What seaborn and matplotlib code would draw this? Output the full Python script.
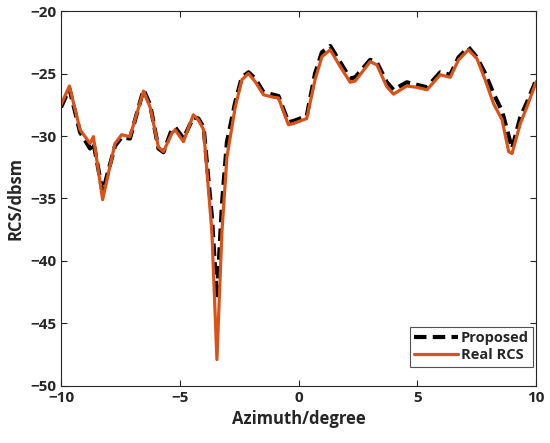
import pandas as pd
import seaborn as sns
import matplotlib.pyplot as plt

# Azimuth samples (degree)
azimuth = [-10.0, -9.65, -9.2, -8.78, -8.64, -8.25, -7.73, -7.45, -7.1, -6.81,
           -6.53, -6.25, -5.9, -5.69, -5.34, -5.2, -4.85, -4.43, -4.22, -4.0,
           -3.65, -3.44, -3.23, -3.02, -2.67, -2.39, -2.11, -1.83, -1.48, -1.06,
           -0.85, -0.43, -0.22, 0.34, 0.69, 0.98, 1.33, 1.75, 2.17, 2.38,
           3.01, 3.29, 3.71, 3.99, 4.55, 4.97, 5.4, 5.96, 6.38, 6.73,
           7.15, 7.5, 7.85, 8.2, 8.56, 8.84, 8.98, 9.33, 9.61, 10.0]

real_rcs = [-27.5, -26.0, -29.5, -30.6, -30.05, -35.1, -30.6, -29.9, -30.05, -28.2,
            -26.4, -27.7, -30.9, -31.25, -29.8, -29.5, -30.45, -28.3, -28.7, -29.5,
            -37.7, -47.9, -37.7, -31.7, -27.7, -25.5, -25.0, -25.65, -26.7, -26.9,
            -26.95, -29.1, -29.0, -28.6, -25.5, -23.65, -23.1, -24.45, -25.7, -25.6,
            -24.05, -24.3, -26.05, -26.65, -26.0, -26.1, -26.3, -25.1, -25.3, -23.9,
            -23.1, -23.8, -25.5, -27.4, -28.7, -31.25, -31.4, -29.0, -27.65, -25.65]

proposed = [-27.7, -26.2, -29.7, -31.0, -30.5, -34.5, -30.8, -30.1, -30.2, -28.2,
            -26.3, -27.5, -31.0, -31.3, -29.5, -29.3, -30.2, -28.5, -28.6, -29.3,
            -36.5, -43.0, -35.5, -30.5, -27.3, -25.3, -24.9, -25.4, -26.5, -26.7,
            -26.8, -28.9, -28.8, -28.4, -25.0, -23.3, -22.8, -24.1, -25.4, -25.3,
            -23.9, -24.1, -25.7, -26.3, -25.7, -25.9, -26.1, -24.9, -25.1, -23.7,
            -22.9, -23.7, -25.0, -26.6, -28.0, -30.0, -31.0, -28.5, -27.3, -25.5]

df = pd.DataFrame({'Azimuth': azimuth, 'Real RCS': real_rcs, 'Proposed': proposed})

sns.set_style('white')
plt.rcParams['font.family'] = ['Open Sans', 'DejaVu Sans']
plt.rcParams['xtick.direction'] = 'in'
plt.rcParams['ytick.direction'] = 'in'

fig = plt.figure(figsize=(5.5, 4.43), dpi=100)
ax = fig.add_axes([0.111, 0.129, 0.864, 0.846])

sns.lineplot(data=df, x='Azimuth', y='Proposed', ax=ax, color='black',
             linewidth=3, linestyle='--', label='Proposed')
ax.lines[-1].set_dashes([3, 1.5])
sns.lineplot(data=df, x='Azimuth', y='Real RCS', ax=ax, color='#D95319',
             linewidth=2.3, label='Real RCS')

ax.set_xlim(-10, 10)
ax.set_ylim(-50, -20)
ax.set_xticks([-10, -5, 0, 5, 10])
ax.set_yticks([-50, -45, -40, -35, -30, -25, -20])
ax.tick_params(labelsize=11, length=4, width=0.8, top=True, right=True,
               bottom=True, left=True, colors='#262626')
for lab in ax.get_xticklabels() + ax.get_yticklabels():
    lab.set_fontweight('bold')
for s in ax.spines.values():
    s.set_color('#262626')
    s.set_linewidth(0.8)

ax.set_xlabel('Azimuth/degree', fontsize=12, fontweight='bold', color='#262626')
ax.set_ylabel('RCS/dbsm', fontsize=12, fontweight='bold', color='#262626')

leg = ax.legend(loc='lower right', bbox_to_anchor=(0.994, 0.051), frameon=True,
                fancybox=False, borderpad=0.3, handlelength=3.0, handletextpad=0.2,
                labelspacing=0.2, borderaxespad=0,
                prop={'family': 'Open Sans', 'weight': 'bold', 'size': 10.5})
leg.get_frame().set_edgecolor('#262626')
leg.get_frame().set_linewidth(0.8)
leg.get_lines()[0].set_dashes([3, 1.5])

fig.savefig('out.png', dpi=100)
